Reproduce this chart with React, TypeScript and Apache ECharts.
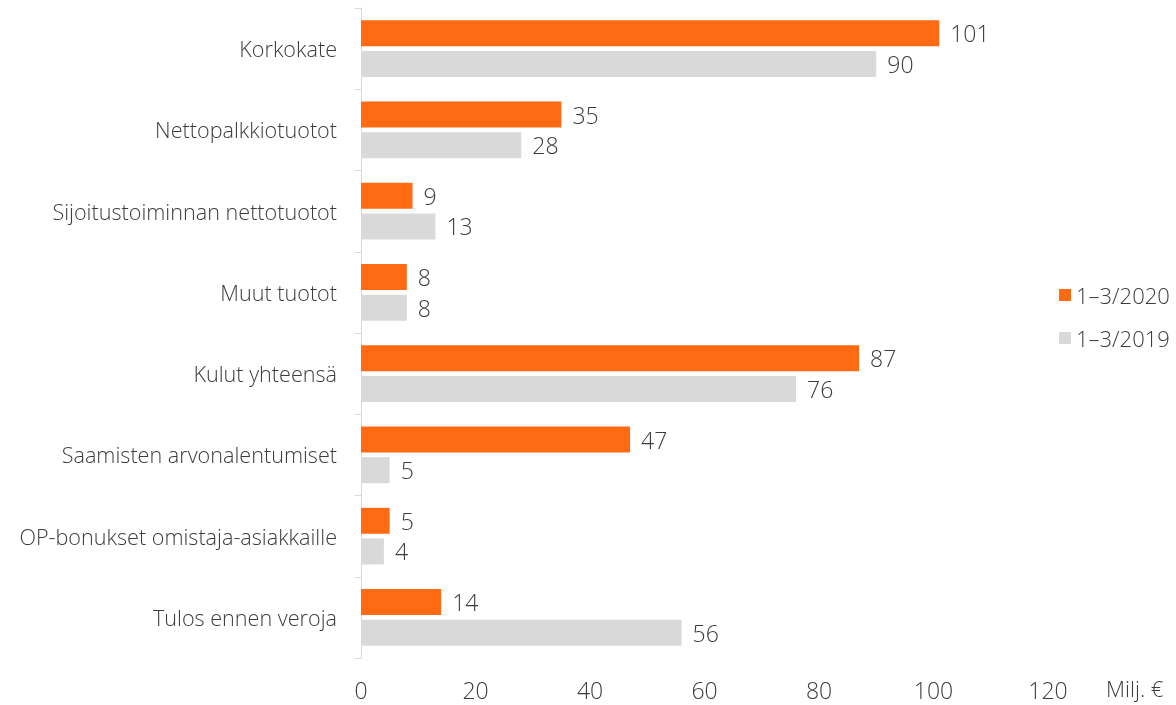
import React, { useEffect, useRef } from "react";
import * as echarts from "echarts";

const categories = [
  "Korkokate",
  "Nettopalkkiotuotot",
  "Sijoitustoiminnan nettotuotot",
  "Muut tuotot",
  "Kulut yhteensä",
  "Saamisten arvonalentumiset",
  "OP-bonukset omistaja-asiakkaille",
  "Tulos ennen veroja",
];
const values2020 = [101, 35, 9, 8, 87, 47, 5, 14];
const values2019 = [90, 28, 13, 8, 76, 5, 4, 56];
const seriesNames = ["1–3/2020", "1–3/2019"];
const unitLabel = "Milj. €";

const FONT = "'Open Sans', 'Noto Sans', sans-serif";
const TEXT = "#3c3c3c";
const W = 300;

export default function App() {
  const ref = useRef<HTMLDivElement>(null);
  useEffect(() => {
    if (!ref.current) return;
    const chart = echarts.init(ref.current, null, { renderer: "svg" });
    const lbl = { show: true, position: "right", distance: 11, color: TEXT, fontSize: 23, fontWeight: W, fontFamily: FONT };
    chart.setOption({
      animation: false,
      textStyle: { fontFamily: FONT },
      grid: { left: 361, right: 128, top: 8, bottom: 47, containLabel: false },
      legend: {
        orient: "vertical",
        left: 1054,
        top: 279,
        itemWidth: 12,
        itemHeight: 12,
        itemGap: 21,
        icon: "rect",
        textStyle: { color: TEXT, fontSize: 22, fontWeight: W, fontFamily: FONT },
        data: seriesNames,
      },
      xAxis: {
        type: "value",
        min: 0,
        max: 120,
        interval: 20,
        axisLine: { show: false },
        axisTick: { show: false },
        splitLine: { show: false },
        axisLabel: { color: TEXT, fontSize: 23, fontWeight: W, margin: 20, fontFamily: FONT },
      },
      yAxis: {
        type: "category",
        inverse: true,
        data: categories,
        axisLine: { show: true, lineStyle: { color: "#d9d9d9", width: 1 } },
        axisTick: { show: true, length: 6, lineStyle: { color: "#d9d9d9" } },
        axisLabel: { color: TEXT, fontSize: 21.6, fontWeight: W, margin: 24, fontFamily: FONT },
      },
      graphic: [
        {
          type: "text",
          left: 1106,
          top: 677,
          style: { text: unitLabel, fill: TEXT, font: `${W} 22px ${FONT}` },
        },
      ],
      series: [
        {
          name: seriesNames[0],
          type: "bar",
          data: values2020,
          barWidth: 26,
          barGap: "18%",
          itemStyle: { color: "#ff6a13" },
          label: lbl,
        },
        {
          name: seriesNames[1],
          type: "bar",
          data: values2019,
          barWidth: 26,
          barGap: "18%",
          itemStyle: { color: "#d9d9d9" },
          label: lbl,
        },
      ],
    });
    return () => chart.dispose();
  }, []);
  return <div ref={ref} style={{ position: "fixed", left: 0, top: 0, width: 1176, height: 705 }} />;
}
